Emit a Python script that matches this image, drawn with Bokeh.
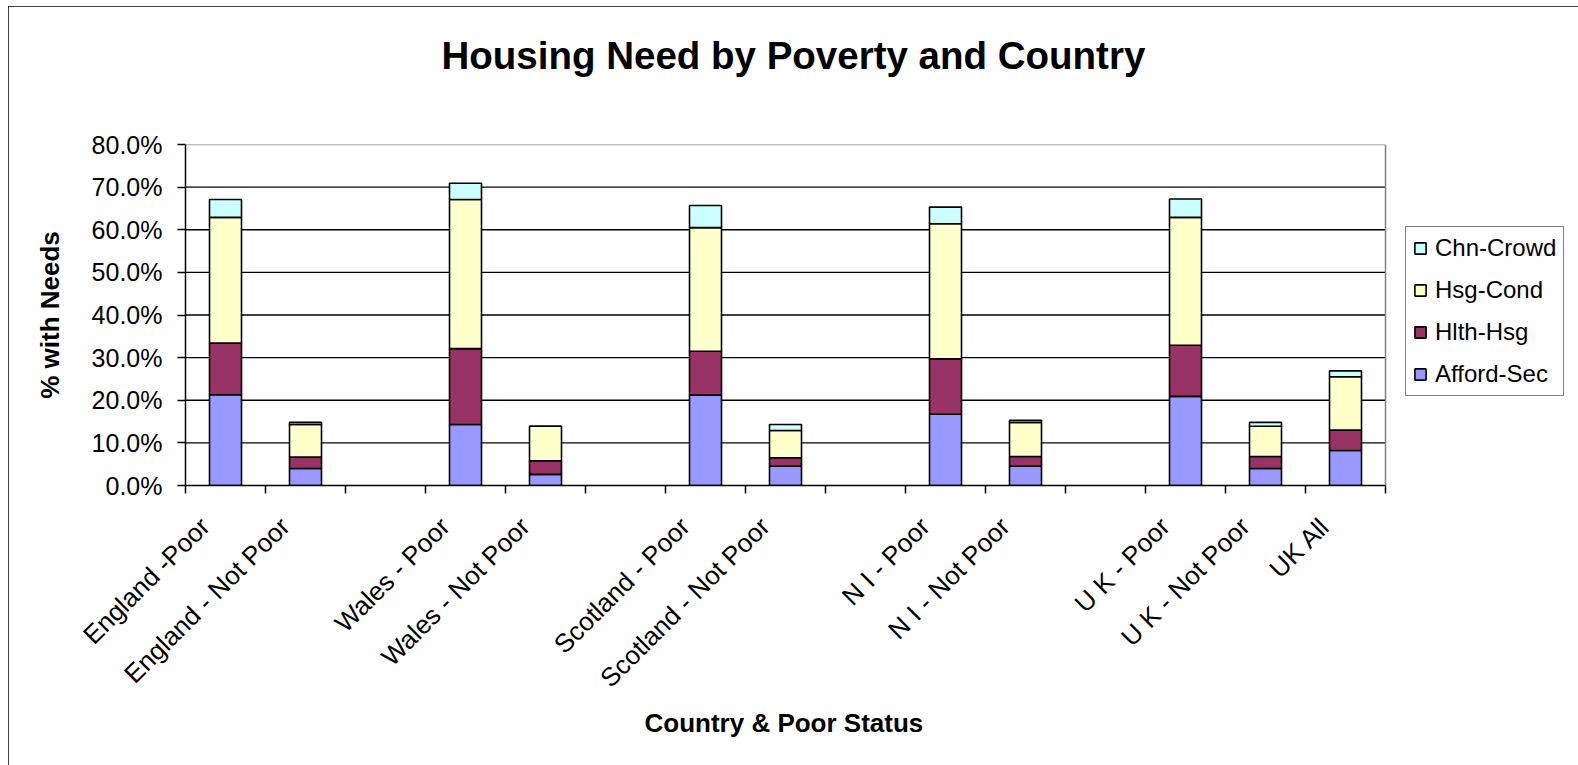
from bokeh.plotting import figure
from bokeh.models import (ColumnDataSource, FixedTicker, PrintfTickFormatter, Range1d,
                          Legend, LegendItem, Title)
from bokeh.embed import file_html
from bokeh.resources import INLINE

# ---------------- data ----------------
categories = ["England -Poor", "England - Not Poor", "",
              "Wales - Poor", "Wales - Not Poor", "",
              "Scotland - Poor", "Scotland - Not Poor", "",
              "N I - Poor", "N I - Not Poor", "",
              "U K - Poor", "U K - Not Poor", "UK All"]

series = ["Afford-Sec", "Hlth-Hsg", "Hsg-Cond", "Chn-Crowd"]

# values in percent, one per labelled category (blank slots skipped)
afford_sec = [21.3, 4.0, 14.3, 2.6, 21.2, 4.5, 16.7, 4.5, 20.9, 4.0, 8.2]
hlth_hsg   = [12.1, 2.7, 17.8, 3.2, 10.3, 2.0, 13.0, 2.3, 12.0, 2.8, 4.8]
hsg_cond   = [29.5, 7.6, 35.0, 8.1, 29.0, 6.4, 31.7, 8.0, 30.0, 7.1, 12.5]
chn_crowd  = [4.2, 0.5, 3.8, 0.0, 5.2, 1.4, 3.9, 0.5, 4.3, 0.9, 1.4]

y_ticks = [0, 10, 20, 30, 40, 50, 60, 70, 80]

title_text = "Housing Need by Poverty and Country"
x_title = "Country & Poor Status"
y_title = "% with Needs"

colors = ["#9999FF", "#993366", "#FFFFCC", "#CCFFFF"]

FONT = "Liberation Sans"

# ---------------- build ----------------
n = len(categories)
x_lo, x_hi = -0.5, n - 0.5
y_lo, y_hi = y_ticks[0], y_ticks[-1]

xs = [i for i, c in enumerate(categories) if c]
src = ColumnDataSource(dict(x=xs, **{
    "Afford-Sec": afford_sec, "Hlth-Hsg": hlth_hsg,
    "Hsg-Cond": hsg_cond, "Chn-Crowd": chn_crowd}))

# the frame extends to the right of the category area to host the legend
slot_px = 80
frame_w = 1387
p = figure(width=1570, height=759, output_backend="svg", toolbar_location=None,
           x_range=Range1d(x_lo, x_lo + frame_w / slot_px), y_range=Range1d(y_lo, y_hi),
           min_border_left=177, min_border_right=6, min_border_top=138,
           min_border_bottom=280)
p.styles = {"margin-left": "8px", "margin-top": "6px",
            "outline": "2px solid black", "outline-offset": "-2px"}

# chart title (an empty second line lifts the text up within the top panel)
p.title = Title(text=title_text + "\n", align="left", offset=256, vertical_align="top",
                standoff=45, text_font=FONT, text_font_size="38.5px",
                text_font_style="bold", text_color="black")

p.outline_line_color = None
p.xgrid.grid_line_color = None
p.ygrid.grid_line_color = None

# horizontal gridlines limited to the category area
grid_y = y_ticks[1:-1]
p.segment(x0=[x_lo] * len(grid_y), x1=[x_hi] * len(grid_y), y0=grid_y, y1=grid_y,
          line_color="black", line_width=1.4)
# plot-area border (top and right, grey)
p.segment(x0=[x_lo, x_hi], x1=[x_hi, x_hi], y0=[y_hi, y_lo], y1=[y_hi, y_hi],
          line_color="#808080", line_width=1.5)

renderers = p.vbar_stack(series, x="x", width=0.4, source=src, color=colors,
                         line_color="black", line_width=1.6)

# y axis
p.yaxis.ticker = FixedTicker(ticks=y_ticks)
p.yaxis.formatter = PrintfTickFormatter(format="%.1f%%")
p.yaxis.axis_label = y_title
p.yaxis.axis_label_text_font = FONT
p.yaxis.axis_label_text_font_size = "26px"
p.yaxis.axis_label_text_font_style = "bold"
p.yaxis.axis_label_text_color = "black"
p.yaxis.axis_label_standoff = 24
p.yaxis.major_label_text_font = FONT
p.yaxis.major_label_text_font_size = "25px"
p.yaxis.major_label_text_color = "black"
p.yaxis.major_label_standoff = 15
p.yaxis.major_tick_out = 8
p.yaxis.major_tick_in = 0
p.yaxis.minor_tick_line_color = None
p.yaxis.axis_line_color = "black"
p.yaxis.axis_line_width = 1.5
p.yaxis.major_tick_line_width = 1.5

# x axis
NBSP = "\u00a0"
p.xaxis.bounds = (x_lo, x_hi)
p.xaxis.ticker = FixedTicker(ticks=xs, minor_ticks=[i - 0.5 for i in range(n + 1)])
p.xaxis.major_label_overrides = {i: c + NBSP * 4 for i, c in enumerate(categories) if c}
p.xaxis.major_label_orientation = 0.785398
p.xaxis.major_tick_line_color = None
p.xaxis.major_tick_out = 0
p.xaxis.minor_tick_out = 8
p.xaxis.minor_tick_in = 0
p.xaxis.minor_tick_line_color = "black"
p.xaxis.minor_tick_line_width = 1.5
p.xaxis.major_label_text_font = FONT
p.xaxis.major_label_text_font_size = "26px"
p.xaxis.major_label_text_color = "black"
p.xaxis.major_label_standoff = 8
p.xaxis.axis_line_color = "black"
p.xaxis.axis_line_width = 1.5

# x axis title, placed under the category area (not under the legend area)
p.add_layout(Title(text=x_title, align="left", offset=459, vertical_align="top",
                   standoff=2, text_font=FONT, text_font_size="26px",
                   text_font_style="bold", text_color="black"), "below")

# legend (reversed order), inside the extended frame to the right of the bars
items = [LegendItem(label=s, renderers=[r]) for s, r in zip(series, renderers)][::-1]
legend = Legend(items=items, location=(1220, 89))
legend.border_line_color = "black"
legend.border_line_width = 1.5
legend.label_text_font = FONT
legend.label_text_font_size = "24px"
legend.label_text_color = "black"
legend.glyph_width = 14
legend.glyph_height = 14
legend.label_height = 24
legend.spacing = 14
legend.padding = 7
legend.margin = 0
legend.label_standoff = 8
legend.background_fill_alpha = 1
p.add_layout(legend, "center")

open("out.html", "w").write(file_html(p, INLINE))
